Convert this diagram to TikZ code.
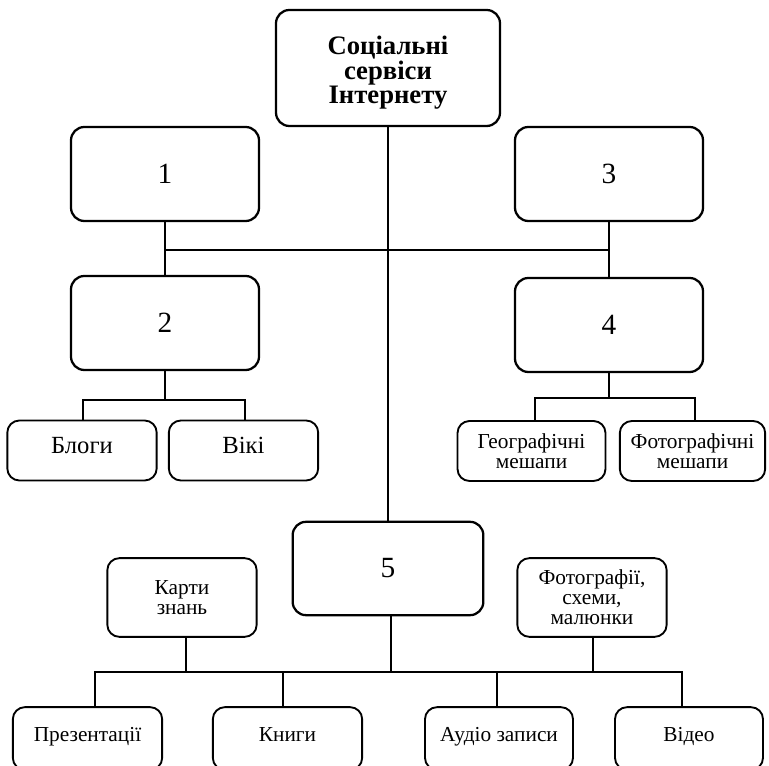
\documentclass[tikz,border=0pt]{standalone}
\usepackage{fontspec}
\setmainfont{Liberation Serif}
\begin{document}
\begin{tikzpicture}[x=7.5pt,y=7.5pt]
		\tikzstyle{every node}+=[inner sep=0pt]
		\tikzstyle{bigbox}=[draw, line width=1.7pt, rounded corners=10pt, align=center]
		\tikzstyle{numbox}=[bigbox, minimum width=141pt, minimum height=70.5pt, font=\fontsize{22}{24}\selectfont]
		\tikzstyle{smallbox}=[draw, line width=1.4pt, rounded corners=9pt, align=center, minimum width=112pt, font=\fontsize{16}{15}\selectfont]
		\tikzstyle{oneline}=[text height=0.68em, text depth=0.2em]
		\tikzstyle{link}=[line width=1.2pt]
		\useasboundingbox (0,0) rectangle (76.9,-76.6);
		\node [bigbox, minimum width=168pt, minimum height=87pt, font=\bfseries\fontsize{20}{18.5}\selectfont] (top) at (38.8,-6.8) {\rule{0pt}{21pt}Соціальні\\сервіси\\Інтернету};
		\node [numbox] (b1) at (16.5,-17.4) {1};
		\node [numbox] (b3) at (60.9,-17.4) {3};
		\node [numbox] (b2) at (16.5,-32.3) {2};
		\node [numbox] (b4) at (60.9,-32.5) {4};
		\node [numbox, minimum width=143pt, minimum height=70pt] (b5) at (38.8,-56.85) {5};
		\node [smallbox, oneline, minimum height=45pt, font=\fontsize{18.5}{18}\selectfont] (blogs) at (8.2,-45.05) {Блоги};
		\node [smallbox, oneline, minimum height=45pt, font=\fontsize{18.5}{18}\selectfont] (wiki) at (24.35,-45.05) {Вікі};
		\node [smallbox, minimum height=45pt, minimum width=111pt] (geo) at (53.15,-45.1) {Географічні\\мешапи};
		\node [smallbox, minimum height=45pt, minimum width=109pt] (photomap) at (69.25,-45.1) {Фотографічні\\мешапи};
		\node [smallbox, minimum height=59pt] (maps) at (18.2,-59.75) {Карти\\знань};
		\node [smallbox, minimum height=59pt] (photos) at (59.2,-59.75) {Фотографії,\\схеми,\\малюнки};
		\node [smallbox, oneline, minimum height=47pt] (pres) at (8.75,-73.85) {Презентації};
		\node [smallbox, oneline, minimum height=47pt] (books) at (28.75,-73.85) {Книги};
		\node [smallbox, oneline, minimum height=47pt, minimum width=111pt] (audio) at (49.9,-73.85) {Аудіо записи};
		\node [smallbox, oneline, minimum height=47pt, minimum width=111pt] (video) at (68.9,-73.85) {Відео};
		\coordinate (bus) at (38.8,-25);
		\coordinate (j2) at (16.5,-40);
		\coordinate (j4) at (60.9,-39.8);
		\coordinate (j5) at (38.8,-67.2);
		\draw [link] (top.south) -- (b5.north);
		\draw [link] (b1.south) -- (b2.north);
		\draw [link] (b3.south) -- (b4.north);
		\draw [link] (b1 |- bus) -- (b3 |- bus);
		\draw [link] (b2.south) -- (j2);
		\draw [link] ([xshift=0.75pt]blogs.north) |- (j2) -| ([xshift=1.1pt]wiki.north);
		\draw [link] (b4.south) -- (j4);
		\draw [link] ([xshift=2.6pt]geo.north) |- (j4) -| ([xshift=1.9pt]photomap.north);
		\draw [link] ([xshift=5.6pt]pres.north) |- (j5) -| ([xshift=-5.25pt]video.north);
		\draw [link] ([xshift=3pt]maps.south) -- ([xshift=3pt]maps.south |- j5);
		\draw [link] ([xshift=2.3pt]b5.south) -- ([xshift=2.3pt]b5.south |- j5);
		\draw [link] ([xshift=0.75pt]photos.south) -- ([xshift=0.75pt]photos.south |- j5);
		\draw [link] ([xshift=-3.4pt]books.north) -- ([xshift=-3.4pt]books.north |- j5);
		\draw [link] ([xshift=-1.5pt]audio.north) -- ([xshift=-1.5pt]audio.north |- j5);
		\end{tikzpicture}
\end{document}
